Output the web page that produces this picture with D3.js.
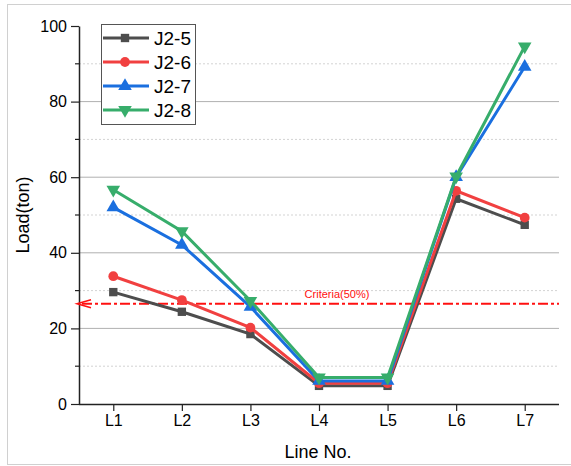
<!DOCTYPE html>
<html>
<head>
<meta charset="utf-8">
<script src="https://cdn.jsdelivr.net/npm/d3@7"></script>
<style>
  body { margin: 0; background: #fff; }
  text { font-family: Arial, "Liberation Sans", sans-serif; fill: #000; }
</style>
</head>
<body>
<div id="chart"></div>
<script>
// data
var lines = ['L1', 'L2', 'L3', 'L4', 'L5', 'L6', 'L7'];
var j25 = [29.6, 24.4, 18.5, 4.8, 4.8, 54.3, 47.4];
var j26 = [33.8, 27.5, 20.2, 5.5, 5.5, 56.4, 49.3];
var j27 = [52.0, 42.1, 25.7, 6.1, 6.1, 60.0, 89.2];
var j28 = [56.7, 45.7, 27.3, 7.0, 7.0, 60.2, 94.6];
var criteria = 26.5;
var yTicks = [0, 20, 40, 60, 80, 100];
var yMinor = [10, 30, 50, 70, 90];

var series = [
  { name: 'J2-5', values: j25, color: '#4d4d4d', symbol: d3.symbolSquare, rot: 0 },
  { name: 'J2-6', values: j26, color: '#f14040', symbol: d3.symbolCircle, rot: 0 },
  { name: 'J2-7', values: j27, color: '#1a6fdf', symbol: d3.symbolTriangle, rot: 0 },
  { name: 'J2-8', values: j28, color: '#37ad6b', symbol: d3.symbolTriangle, rot: 180 }
];

var chartW = 571, chartH = 466;
var plotL = 79, plotR = 559, plotT = 26, plotB = 404;

function symSize(s) {
  return s.symbol === d3.symbolCircle ? 75 : (s.symbol === d3.symbolSquare ? 70 : 80);
}

var svg = d3.select('#chart').append('svg')
  .attr('width', chartW)
  .attr('height', chartH);

// outer frame
svg.append('rect')
  .attr('x', 7.5).attr('y', 4.5)
  .attr('width', 600).attr('height', 460)
  .attr('fill', 'none')
  .attr('stroke', '#d0d0d0');

var x = d3.scalePoint().domain(lines).range([plotL, plotR]).padding(0.5);
var y = d3.scaleLinear().domain([0, 100]).range([plotB, plotT]);

// grid
svg.append('g').selectAll('line')
  .data(yMinor).enter().append('line')
  .attr('x1', plotL).attr('x2', plotR)
  .attr('y1', function(d) { return y(d); }).attr('y2', function(d) { return y(d); })
  .attr('stroke', '#d3d3d3').attr('stroke-dasharray', '2,2');

svg.append('g').selectAll('line')
  .data(yTicks.filter(function(d) { return d > 0 && d < 100; })).enter().append('line')
  .attr('x1', plotL).attr('x2', plotR)
  .attr('y1', function(d) { return y(d); }).attr('y2', function(d) { return y(d); })
  .attr('stroke', '#b0b0b0');

// y axis
var yAxis = svg.append('g')
  .attr('transform', 'translate(' + plotL + ',0)')
  .call(d3.axisLeft(y).tickValues(yTicks).tickSize(8).tickPadding(4).tickSizeOuter(0));
yAxis.append('g').selectAll('line')
  .data(yMinor).enter().append('line')
  .attr('x1', -4).attr('x2', 0)
  .attr('y1', function(d) { return y(d); }).attr('y2', function(d) { return y(d); })
  .attr('stroke', '#222').attr('stroke-width', 1.2);

// x axis
var xAxis = svg.append('g')
  .attr('transform', 'translate(0,' + plotB + ')')
  .call(d3.axisBottom(x).tickSize(7).tickPadding(4).tickSizeOuter(0));
xAxis.select('.domain').attr('d', 'M' + plotL + ',0.5H' + plotR);

[yAxis, xAxis].forEach(function(a) {
  a.select('.domain').attr('stroke', '#222').attr('stroke-width', 1.5);
  a.selectAll('.tick line').attr('stroke', '#222').attr('stroke-width', 1.2);
  a.selectAll('.tick text').style('font-size', '16px').attr('fill', '#000')
    .style('font-family', 'Arial, "Liberation Sans", sans-serif');
});

// axis titles
svg.append('text')
  .attr('transform', 'translate(29,' + ((plotT + plotB) / 2) + ') rotate(-90)')
  .attr('text-anchor', 'middle')
  .style('font-size', '18px')
  .text('Load(ton)');

svg.append('text')
  .attr('x', (plotL + plotR) / 2 - 1)
  .attr('y', 458)
  .attr('text-anchor', 'middle')
  .style('font-size', '18px')
  .text('Line No.');

// criteria line
var critY = y(criteria);
svg.append('line')
  .attr('x1', plotL + 3).attr('x2', plotR)
  .attr('y1', critY).attr('y2', critY)
  .attr('stroke', '#ff1010').attr('stroke-width', 2)
  .attr('stroke-dasharray', '10,3,3,3');
svg.append('path')
  .attr('d', 'M' + (plotL + 12) + ',' + (critY - 4) + 'L' + (plotL - 2) + ',' + critY + 'L' + (plotL + 12) + ',' + (critY + 4))
  .attr('fill', 'none')
  .attr('stroke', '#ff1010').attr('stroke-width', 1.5);
svg.append('text')
  .attr('x', 337).attr('y', critY - 6)
  .attr('text-anchor', 'middle')
  .style('font-size', '11px')
  .style('fill', '#ff1010')
  .text('Criteria(50%)');

// series
var line = d3.line()
  .x(function(d, i) { return x(lines[i]); })
  .y(function(d) { return y(d); });

series.forEach(function(s) {
  svg.append('path')
    .datum(s.values)
    .attr('d', line)
    .attr('fill', 'none')
    .attr('stroke', s.color)
    .attr('stroke-width', 3);
  svg.append('g').selectAll('path')
    .data(s.values).enter().append('path')
    .attr('d', d3.symbol().type(s.symbol).size(symSize(s)))
    .attr('transform', function(d, i) {
      return 'translate(' + x(lines[i]) + ',' + y(d) + ') rotate(' + s.rot + ')';
    })
    .attr('fill', s.color);
});

// legend
var legend = svg.append('g').attr('transform', 'translate(101,24)');
legend.append('rect')
  .attr('x', 0.5).attr('y', 0.5)
  .attr('width', 94).attr('height', 100)
  .attr('fill', '#fff')
  .attr('stroke', '#555');
series.forEach(function(s, i) {
  var ly = 14 + i * 24;
  legend.append('line')
    .attr('x1', 2).attr('x2', 48)
    .attr('y1', ly).attr('y2', ly)
    .attr('stroke', s.color).attr('stroke-width', 3);
  legend.append('path')
    .attr('d', d3.symbol().type(s.symbol).size(symSize(s)))
    .attr('transform', 'translate(24,' + ly + ') rotate(' + s.rot + ')')
    .attr('fill', s.color);
  legend.append('text')
    .attr('x', 53).attr('y', ly + 7)
    .style('font-size', '19px')
    .text(s.name);
});
</script>
</body>
</html>
